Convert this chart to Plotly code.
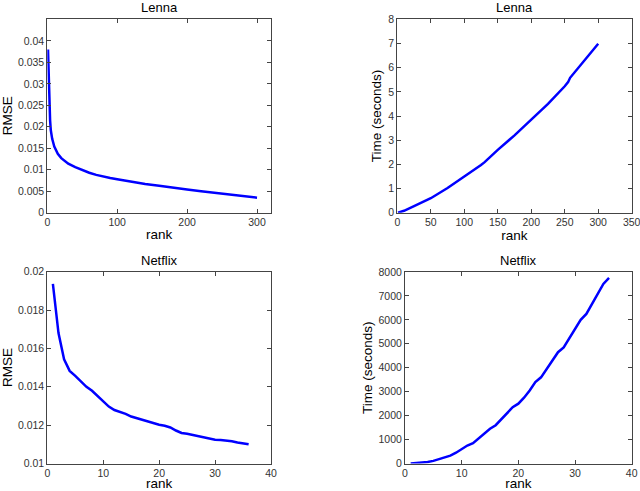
import plotly.graph_objects as go

# Lenna, RMSE vs rank
lenna_rank = [1, 2, 3, 4, 5, 7, 10, 15, 20, 25, 30, 40, 50, 60, 70, 80, 90, 100,
              120, 140, 160, 180, 200, 220, 240, 260, 280, 300]
lenna_rmse = [0.038, 0.0295, 0.0245, 0.0215, 0.0192, 0.0172, 0.0154, 0.0137, 0.0127,
              0.0120, 0.0114, 0.0106, 0.0099, 0.0093, 0.0088, 0.0084, 0.0081, 0.0078,
              0.0072, 0.0067, 0.0063, 0.0058, 0.0054, 0.0050, 0.0046, 0.0042, 0.0039, 0.0035]
lenna_rmse_ticks = [0, 0.005, 0.01, 0.015, 0.02, 0.025, 0.03, 0.035, 0.04]

# Lenna, time vs rank
lenna_trank = [1, 10, 25, 50, 75, 100, 125, 130, 150, 175, 200, 225, 250, 255, 258, 275, 300]
lenna_time = [0.0, 0.08, 0.27, 0.6, 1.02, 1.48, 1.97, 2.08, 2.6, 3.2, 3.84, 4.5, 5.23, 5.4, 5.58, 6.15, 6.99]

# Netflix, RMSE vs rank
netflix_rank = list(range(1, 37))
netflix_rmse = [0.01936, 0.0168, 0.01543, 0.01483, 0.01457, 0.01428, 0.0140, 0.01379,
                0.01353, 0.01324, 0.01297, 0.01279, 0.0127, 0.01259, 0.01245, 0.01236,
                0.01228, 0.01216, 0.01207, 0.01202, 0.01197, 0.01188, 0.01172, 0.01159,
                0.01155, 0.01148, 0.01141, 0.01136, 0.01129, 0.01124, 0.01122, 0.0112,
                0.01116, 0.01109, 0.01103, 0.011]

# Netflix, time vs rank
netflix_time = [0, 10, 30, 60, 110, 180, 260, 330, 450, 600, 750, 850, 1050, 1250, 1450,
                1600, 1850, 2100, 2350, 2500, 2750, 3050, 3400, 3600, 3950, 4300, 4650,
                4850, 5250, 5650, 6000, 6250, 6650, 7050, 7500, 7750]

W, H = 640, 491


def dx(a, b):
    return [a / W, b / W]


def dy(top, bot):
    return [1 - bot / H, 1 - top / H]


fig = go.Figure()
line = dict(color="#0000ff", width=2.5)
fig.add_trace(go.Scatter(x=lenna_rank, y=lenna_rmse, mode="lines", line=line, xaxis="x", yaxis="y"))
fig.add_trace(go.Scatter(x=lenna_trank, y=lenna_time, mode="lines", line=line, xaxis="x2", yaxis="y2"))
fig.add_trace(go.Scatter(x=netflix_rank, y=netflix_rmse, mode="lines", line=line, xaxis="x3", yaxis="y3"))
fig.add_trace(go.Scatter(x=netflix_rank, y=netflix_time, mode="lines", line=line, xaxis="x4", yaxis="y4"))

ax = dict(showgrid=False, zeroline=False, showline=True, linecolor="#444", linewidth=1,
          mirror="ticks", ticks="inside", ticklen=4, tickcolor="#444", automargin=False,
          ticklabeloverflow="allow",
          tickfont=dict(family="Liberation Sans, Arial", size=10.5, color="#333"))
tfont = dict(family="Liberation Sans, Arial", size=13.5, color="black")

fig.update_layout(
    width=W, height=H, showlegend=False,
    paper_bgcolor="white", plot_bgcolor="white",
    margin=dict(l=0, r=0, t=0, b=0),
    xaxis=dict(ax, domain=dx(47.3, 271), range=[0, 320], dtick=100, anchor="y",
               title=dict(text="rank", font=tfont, standoff=2)),
    yaxis=dict(ax, domain=dy(19, 212.7), range=[0, 0.0451], tickvals=lenna_rmse_ticks,
               anchor="x", title=dict(text="RMSE", font=tfont, standoff=4)),
    xaxis2=dict(ax, domain=dx(397.3, 631.7), range=[0, 350], dtick=50, anchor="y2",
                title=dict(text="rank", font=tfont, standoff=2)),
    yaxis2=dict(ax, domain=dy(19.3, 212.7), range=[0, 8], dtick=1, anchor="x2",
                title=dict(text="Time (seconds)", font=tfont, standoff=3)),
    xaxis3=dict(ax, domain=dx(47.3, 271), range=[0, 40], dtick=10, anchor="y3",
                title=dict(text="rank", font=tfont, standoff=4)),
    yaxis3=dict(ax, domain=dy(271.7, 463.5), range=[0.01, 0.02], dtick=0.002, anchor="x3",
                title=dict(text="RMSE", font=tfont, standoff=4)),
    xaxis4=dict(ax, domain=dx(405, 631.7), range=[0, 40], dtick=10, anchor="y4",
                title=dict(text="rank", font=tfont, standoff=4)),
    yaxis4=dict(ax, domain=dy(272, 463.5), range=[0, 8000], dtick=1000, anchor="x4",
                title=dict(text="Time (seconds)", font=tfont, standoff=2)),
)

titles = [("Lenna", 159, 19), ("Lenna", 514.5, 19.3),
          ("Netflix", 159, 271.7), ("Netflix", 518, 272)]
for text, x, y in titles:
    fig.add_annotation(text=text, x=x / W, y=1 - y / H,
                       xref="paper", yref="paper",
                       xanchor="center", yanchor="bottom", yshift=2, showarrow=False,
                       font=dict(family="Liberation Sans, Arial", size=13, color="black"))

# drop the default page margin so the figure sits at the window's corner
fig.write_html("out.html", config={"displayModeBar": False},
               post_script="document.body.style.margin = '0';")
